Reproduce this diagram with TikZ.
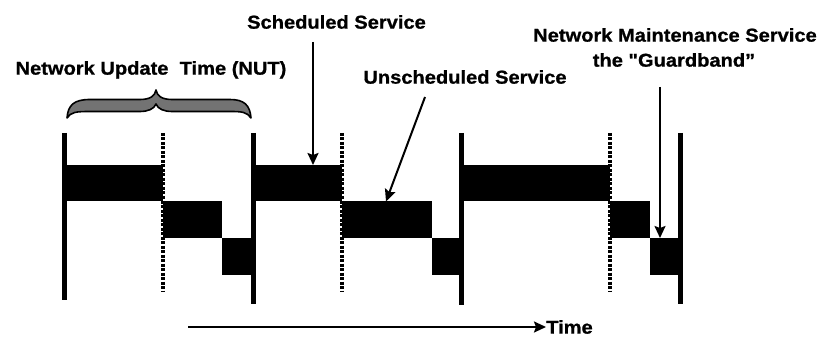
\documentclass[tikz,border=0pt]{standalone}
\usepackage{fontspec}
\newfontfamily\labelfont[FakeStretch=1.08, BoldFeatures={FakeBold=0.9}]{Liberation Sans}
\usetikzlibrary{arrows.meta}

\tikzset{
  lbl/.style={font=\labelfont\bfseries\fontsize{18.6}{20}\selectfont,
              inner sep=0pt, text height=13.3pt, text depth=0pt},
  blk/.style={fill=black, draw=none, inner sep=0pt, outer sep=0pt,
              anchor=north west, minimum height=36.5pt},
  bar/.style={line width=5pt},
  dotline/.style={line width=3.5pt, dash pattern=on 3pt off 1.5pt},
  pointer/.style={line width=2pt, -{Stealth[length=12pt,width=11pt,inset=2pt]}},
  bracefill/.style={fill=black!55, draw=black, line width=1.6pt, line join=round}
}

\begin{document}
\begin{tikzpicture}[x=1pt, y=-1pt]
\useasboundingbox (0,0) rectangle (824,339);

% cycle boundaries (solid) and the start of the unscheduled part (dotted)
\draw[bar] (64,133) -- (64,300);
\draw[bar] (253.5,133) -- (253.5,304);
\draw[bar] (461,133) -- (461,305);
\draw[bar] (680,133) -- (680,304);
\draw[dotline] (163,133) -- (163,292);
\draw[dotline] (342,133) -- (342,292);
\draw[dotline] (610,133) -- (610,292);

% transmission slots: scheduled, unscheduled, maintenance
\node[blk, minimum width=99pt]  (b1) at (64,165) {};
\node[blk, minimum width=59pt]  (b2) at (163,201.5) {};
\node[blk, minimum width=31.5pt] (b3) at (222,238) {};
\node[blk, minimum width=88.5pt] (b4) at (253.5,165) {};
\node[blk, minimum width=90pt]  (b5) at (342,201.5) {};
\node[blk, minimum width=29pt]  (b6) at (432,238) {};
\node[blk, minimum width=149pt] (b7) at (461,165) {};
\node[blk, minimum width=40pt]  (b8) at (610,201.5) {};
\node[blk, minimum width=30pt]  (b9) at (650,238) {};

% brace over one network update time
\path[bracefill]
  (67,118) .. controls (68,105) and (74,99.5) .. (90,99.5)
  -- (140,99.5) .. controls (150,99.5) and (155,96) .. (156,90)
  .. controls (157,96) and (162,99.5) .. (172,99.5)
  -- (230,99.5) .. controls (244,99.5) and (250,105) .. (251,118)
  .. controls (247,112) and (242,111.5) .. (230,111.5)
  -- (172,111.5) .. controls (164,111.5) and (158,109) .. (156,104)
  .. controls (154,109) and (148,111.5) .. (140,111.5)
  -- (90,111.5) .. controls (76,111.5) and (71,112) .. (67,118) -- cycle;

% labels
\node[lbl] (nut) at (151,68) {Network Update\ \ Time (NUT)};
\node[lbl] (sched) at (336.5,22) {Scheduled Service};
\node[lbl] (unsched) at (465,77) {Unscheduled Service};
\node[lbl] (nms) at (675,35) {Network Maintenance Service};
\node[lbl] (guard) at (674,60) {the "Guardband”};
\node[lbl, anchor=west] (time) at (546,327) {Time};

% pointers
\coordinate (schedtail) at (313,42);
\coordinate (unschedtail) at (425,97);
\coordinate (unschedhead) at (386,201.5);
\coordinate (guardtail) at (660,87);
\coordinate (timetail) at (188,327);
\draw[pointer] (schedtail) -- (schedtail |- b4.north);
\draw[pointer] (unschedtail) -- (unschedhead);
\draw[pointer] (guardtail) -- (guardtail |- b9.north);
\draw[pointer] (timetail) -- (time.west);
\end{tikzpicture}
\end{document}
